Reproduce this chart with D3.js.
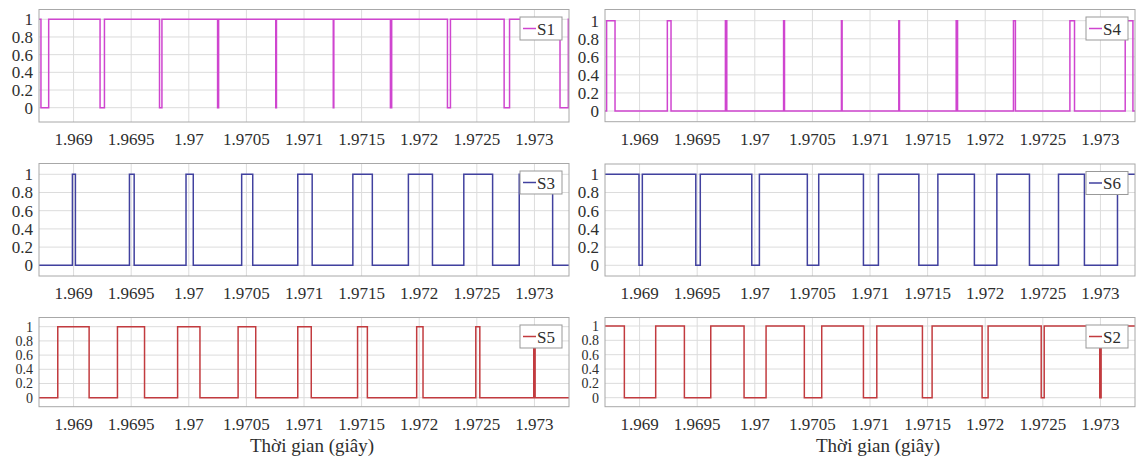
<!DOCTYPE html>
<html>
<head>
<meta charset="utf-8">
<script src="https://cdn.jsdelivr.net/npm/d3@7"></script>
<style>
  body { margin: 0; background: #fff; }
  svg { display: block; }
  text { font-family: "Liberation Serif", "DejaVu Serif", serif; fill: #2e2e2e; }
</style>
</head>
<body>
<svg id="chart" width="1136" height="459"></svg>
<script>
// time axis
var xDomain = [1.9687, 1.9733];
var xTicks = [1.969, 1.9695, 1.97, 1.9705, 1.971, 1.9715, 1.972, 1.9725, 1.973];
var xTickLabels = ["1.969", "1.9695", "1.97", "1.9705", "1.971", "1.9715", "1.972", "1.9725", "1.973"];
var yTicks = [0, 0.2, 0.4, 0.6, 0.8, 1];
var yTickLabels = ["0", "0.2", "0.4", "0.6", "0.8", "1"];
var xLabel = "Thời gian (giây)";

// switching instants (s) of each gate signal, with its level at the left edge
var s1Start = 1;
var s1Edges = [1.968717, 1.968784, 1.969230, 1.969268, 1.969746, 1.969767, 1.970250, 1.970259,
  1.970755, 1.970761, 1.971254, 1.971259, 1.971750, 1.971761, 1.972245, 1.972271,
  1.972737, 1.972784, 1.973222, 1.973294];

var s4Start = 0;
var s4Edges = [1.968714, 1.968787, 1.969241, 1.969273, 1.969745, 1.969757, 1.970250, 1.970258,
  1.970752, 1.970758, 1.971250, 1.971256, 1.971748, 1.971760, 1.972245, 1.972262,
  1.972735, 1.972775, 1.973215, 1.973282];

var s3Start = 0;
var s3Edges = [1.968990, 1.969016, 1.969485, 1.969526, 1.969976, 1.970039, 1.970459, 1.970555,
  1.970946, 1.971071, 1.971424, 1.971593, 1.971906, 1.972115, 1.972387, 1.972637,
  1.972868, 1.973158];

var s6Start = 1;
var s6Edges = [1.968995, 1.969024, 1.969488, 1.969527, 1.969974, 1.970040, 1.970456, 1.970555,
  1.970943, 1.971073, 1.971424, 1.971589, 1.971906, 1.972101, 1.972384, 1.972636,
  1.972861, 1.973148];

var s5Start = 0;
var s5Edges = [1.968863, 1.969135, 1.969381, 1.969616, 1.969903, 1.970097, 1.970428, 1.970581,
  1.970946, 1.971063, 1.971465, 1.971550, 1.971978, 1.972033, 1.972491, 1.972526,
  1.972994, 1.973006];

var s2Start = 1;
var s2Edges = [1.968868, 1.969140, 1.969389, 1.969618, 1.969907, 1.970098, 1.970430, 1.970581,
  1.970943, 1.971059, 1.971455, 1.971539, 1.971973, 1.972025, 1.972486, 1.972512,
  1.972994, 1.973006];

var magenta = "#cf45cf";
var blue = "#41419f";
var red = "#c23b3f";

// panel boxes in pixels: left, right, top, bottom, and where 0 and 1 sit
var panels = [
  {name: "S1", start: s1Start, edges: s1Edges, color: magenta, x0: 39, x1: 569, top: 9.5, bottom: 122, yZero: 107.7, yOne: 19.3, yFont: 17},
  {name: "S4", start: s4Start, edges: s4Edges, color: magenta, x0: 605, x1: 1135, top: 9.5, bottom: 121.7, yZero: 111, yOne: 20.7, yFont: 17},
  {name: "S3", start: s3Start, edges: s3Edges, color: blue, x0: 39, x1: 569, top: 163.5, bottom: 276, yZero: 265.3, yOne: 174.3, yFont: 17},
  {name: "S6", start: s6Start, edges: s6Edges, color: blue, x0: 605, x1: 1135, top: 164, bottom: 276, yZero: 265.3, yOne: 174.3, yFont: 17},
  {name: "S5", start: s5Start, edges: s5Edges, color: red, x0: 39, x1: 569, top: 317.5, bottom: 406.7, yZero: 397.7, yOne: 326.7, yFont: 14, xlab: true},
  {name: "S2", start: s2Start, edges: s2Edges, color: red, x0: 605, x1: 1135, top: 317.5, bottom: 406.7, yZero: 397.7, yOne: 326, yFont: 14, xlab: true}
];

var svg = d3.select("#chart");

var stepPoints = function(start, edges)
{
  var pts = [{t: xDomain[0], v: start}];
  var v = start;
  edges.forEach(function(t) {
    pts.push({t: t, v: v});
    v = 1 - v;
    pts.push({t: t, v: v});
  });
  pts.push({t: xDomain[1], v: v});
  return pts;
}

var drawPanel = function(p, i)
{
  var x = d3.scaleLinear().domain(xDomain).range([p.x0, p.x1]);
  var y = d3.scaleLinear().domain([0, 1]).range([p.yZero, p.yOne]);
  var g = svg.append("g");

  g.append("clipPath").attr("id", "clip" + i)
    .append("rect")
    .attr("x", p.x0).attr("y", p.top)
    .attr("width", p.x1 - p.x0).attr("height", p.bottom - p.top);

  // grid
  g.selectAll(".vgrid")
    .data(xTicks)
    .enter()
    .append("line")
    .attr("x1", function(d) { return x(d); })
    .attr("x2", function(d) { return x(d); })
    .attr("y1", p.top).attr("y2", p.bottom)
    .attr("stroke", "#dcdcdc").attr("stroke-width", 1);

  g.selectAll(".hgrid")
    .data(yTicks)
    .enter()
    .append("line")
    .attr("x1", p.x0).attr("x2", p.x1)
    .attr("y1", function(d) { return y(d); })
    .attr("y2", function(d) { return y(d); })
    .attr("stroke", "#dcdcdc").attr("stroke-width", 1);

  // tick labels
  g.selectAll(".xlab")
    .data(xTicks)
    .enter()
    .append("text")
    .attr("x", function(d) { return x(d); })
    .attr("y", p.bottom + 23)
    .attr("text-anchor", "middle")
    .attr("font-size", 17)
    .text(function(d, j) { return xTickLabels[j]; });

  g.selectAll(".ylab")
    .data(yTicks)
    .enter()
    .append("text")
    .attr("x", p.x0 - 6)
    .attr("y", function(d) { return y(d); })
    .attr("dy", "0.35em")
    .attr("text-anchor", "end")
    .attr("font-size", p.yFont)
    .text(function(d, j) { return yTickLabels[j]; });

  // signal
  var line = d3.line()
    .x(function(d) { return x(d.t); })
    .y(function(d) { return y(d.v); });

  g.append("path")
    .datum(stepPoints(p.start, p.edges))
    .attr("clip-path", "url(#clip" + i + ")")
    .attr("d", line)
    .attr("fill", "none")
    .attr("stroke", p.color)
    .attr("stroke-width", 1.5);

  // box
  g.append("rect")
    .attr("x", p.x0).attr("y", p.top)
    .attr("width", p.x1 - p.x0).attr("height", p.bottom - p.top)
    .attr("fill", "none")
    .attr("stroke", "#a8a8a8").attr("stroke-width", 1);

  // legend
  var lx = p.x1 - 49, ly = p.top + 7.5;
  g.append("rect")
    .attr("x", lx).attr("y", ly)
    .attr("width", 42).attr("height", 23)
    .attr("fill", "#fff")
    .attr("stroke", "#999").attr("stroke-width", 1);
  g.append("line")
    .attr("x1", lx + 3).attr("x2", lx + 16)
    .attr("y1", ly + 11.5).attr("y2", ly + 11.5)
    .attr("stroke", p.color).attr("stroke-width", 1.5);
  g.append("text")
    .attr("x", lx + 17).attr("y", ly + 17.5)
    .attr("font-size", 17)
    .text(p.name);

  if (p.xlab) {
    g.append("text")
      .attr("x", (p.x0 + p.x1) / 2 + 8)
      .attr("y", 452)
      .attr("text-anchor", "middle")
      .attr("font-size", 19)
      .text(xLabel);
  }
}

panels.forEach(drawPanel);
</script>
</body>
</html>
